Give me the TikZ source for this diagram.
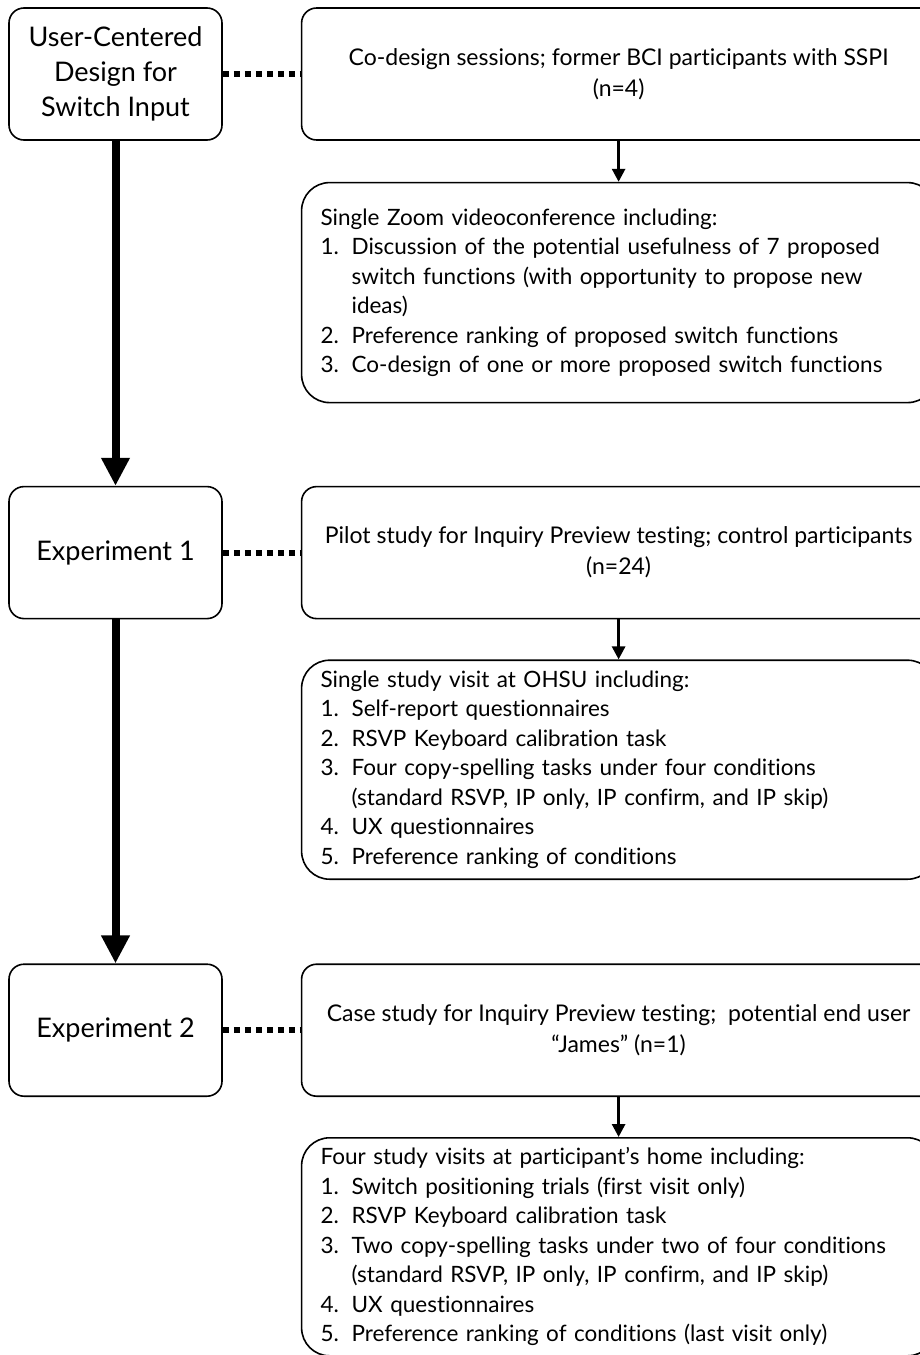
\documentclass[tikz,border=0pt]{standalone}
\usepackage{fontspec}
\setmainfont{Lato}[Ligatures={NoCommon}]
\usetikzlibrary
  {
    arrows.meta,  % arrow heads
    positioning,  % place nodes relative to other nodes
  }

\newcommand{\itemno}[1]{\makebox[31pt][l]{#1}}
\newcommand{\itemcont}{\hspace*{31pt}}

\begin{document}
\begin{tikzpicture}
    [
      x=1pt, y=1pt,
      stage/.style=
        {
          rectangle,
          rounded corners=15pt,
          draw=black,
          line width=1.6pt,
          minimum width=213pt,
          minimum height=132pt,
          align=center,
          font=\fontsize{27}{35}\selectfont,
        },
      summary/.style=
        {
          rectangle,
          rounded corners=15pt,
          draw=black,
          line width=1.6pt,
          minimum width=634pt,
          minimum height=132pt,
          align=center,
          font=\fontsize{23}{31}\selectfont,
        },
      detail/.style=
        {
          rectangle,
          rounded corners=28pt,
          draw=black,
          line width=1.6pt,
          minimum width=634pt,
          text width=596pt,
          inner xsep=19pt,
          align=left,
          font=\fontsize{22.5}{29.5}\selectfont,
        },
      phase/.style=
        {
          line width=8pt,
          -{Triangle[length=28pt,width=27pt]},
        },
      down/.style=
        {
          line width=2.8pt,
          -{Triangle[length=13pt,width=13pt]},
        },
      link/.style=
        {
          line width=6pt,
          dash pattern=on 6pt off 5pt,
        }
    ]
    \useasboundingbox (0,0) rectangle (920,-1355);

    % left column
    \node (ucd) [stage] at (115.5,-74) {User-Centered\\Design for\\Switch Input};
    \node (exp1) [stage, below=345pt of ucd] {Experiment 1};
    \node (exp2) [stage, below=344pt of exp1] {Experiment 2};

    % right column
    \node (codesign) [summary, right=78pt of ucd]
      {Co-design sessions; former BCI participants with SSPI\\(n=4)};
    \node (zoomcall) [detail, minimum height=220pt, below=41pt of codesign]
      {Single Zoom videoconference including:\\
       \itemno{1.}Discussion of the potential usefulness of 7 proposed\\
       \itemcont switch functions (with opportunity to propose new\\
       \itemcont ideas)\\
       \itemno{2.}Preference ranking of proposed switch functions\\
       \itemno{3.}Co-design of one or more proposed switch functions};

    \node (pilot) [summary, right=78pt of exp1]
      {Pilot study for Inquiry Preview testing; control participants\\(n=24)};
    \node (ohsu) [detail, minimum height=219pt, below=40pt of pilot]
      {Single study visit at OHSU including:\\
       \itemno{1.}Self-report questionnaires\\
       \itemno{2.}RSVP Keyboard calibration task\\
       \itemno{3.}Four copy-spelling tasks under four conditions\\
       \itemcont (standard RSVP, IP only, IP confirm, and IP skip)\\
       \itemno{4.}UX questionnaires\\
       \itemno{5.}Preference ranking of conditions};

    \node (casestudy) [summary, right=78pt of exp2]
      {Case study for Inquiry Preview testing;\ \ potential end user\\“James” (n=1)};
    \node (home) [detail, minimum height=218pt, below=40pt of casestudy]
      {Four study visits at participant’s home including:\\
       \itemno{1.}Switch positioning trials (first visit only)\\
       \itemno{2.}RSVP Keyboard calibration task\\
       \itemno{3.}Two copy-spelling tasks under two of four conditions\\
       \itemcont (standard RSVP, IP only, IP confirm, and IP skip)\\
       \itemno{4.}UX questionnaires\\
       \itemno{5.}Preference ranking of conditions (last visit only)};

    % connectors
    \draw [phase] (ucd) -- (exp1);
    \draw [phase] (exp1) -- (exp2);

    \draw [link] (ucd) -- (codesign);
    \draw [link] (exp1) -- (pilot);
    \draw [link] (exp2) -- (casestudy);

    \draw [down] (codesign) -- (zoomcall);
    \draw [down] (pilot) -- (ohsu);
    \draw [down] (casestudy) -- (home);
  \end{tikzpicture}
\end{document}
